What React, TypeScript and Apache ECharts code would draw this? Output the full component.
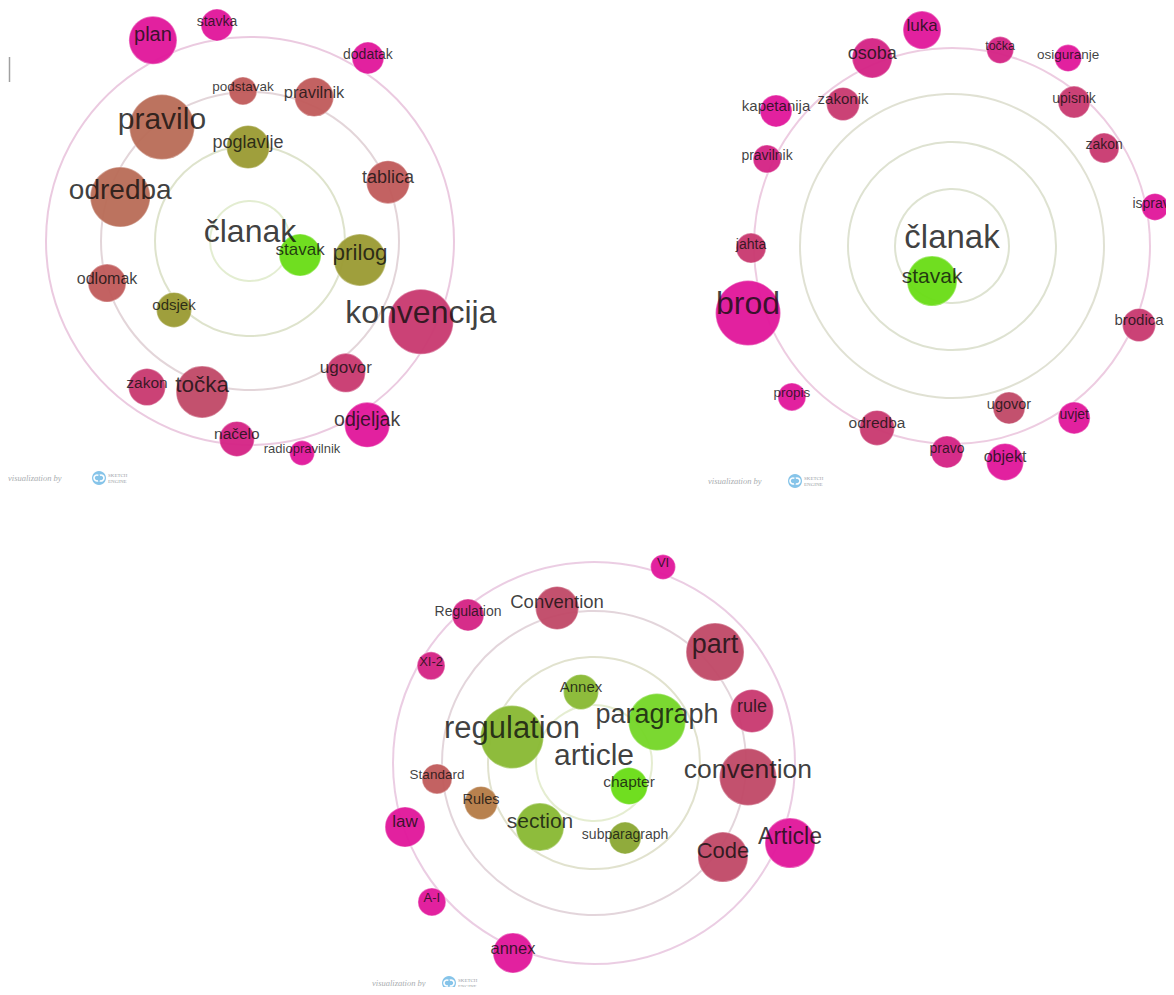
import React, { useEffect, useRef } from "react";
import * as echarts from "echarts";

// ---------- data: chart 1 (članak, HR) ----------
const words1 = ["plan", "stavka", "dodatak", "podstavak", "pravilnik", "pravilo", "poglavlje", "tablica", "odredba", "stavak", "prilog", "odlomak", "odsjek", "konvencija", "ugovor", "zakon", "točka", "odjeljak", "načelo", "radiopravilnik"];
const dist1 = [223, 218.5, 217.7, 150.2, 157.6, 144, 94, 150, 137, 52, 111.6, 149, 102.6, 189, 163, 178.7, 158.4, 218, 198.4, 218.3];
const angle1 = [115.8, 98.7, 57.2, 92.7, 66.0, 127.7, 91.2, 23.1, 161.3, 344.4, 350.2, 196.4, 222.2, 334.7, 306, 234.8, 252.4, 302.5, 266.2, 283.8];
const size1 = [48, 32, 32, 28, 39, 65, 43, 43, 60, 42, 52, 38, 35, 65, 39, 37, 52, 45, 35, 25];
const font1 = [20, 14, 14, 13.5, 16.5, 30, 18, 18, 28, 17, 22.5, 16, 15, 32, 17, 15.5, 22.5, 19.5, 15.5, 13];
const tone1 = ["M", "M", "M", "B", "B", "T", "O", "B", "T", "G", "O", "B", "O", "R", "R", "R", "S", "M", "N", "M"];
const rings1 = [40, 95, 149, 204];

// ---------- data: chart 2 (članak, HR) ----------
const words2 = ["luka", "točka", "osiguranje", "osoba", "zakonik", "kapetanija", "upisnik", "pravilnik", "zakon", "isprava", "jahta", "brod", "stavak", "brodica", "propis", "ugovor", "uvjet", "odredba", "pravo", "objekt"];
const dist2 = [218, 201.8, 220.9, 204.3, 179, 221.8, 188.7, 204.4, 180.9, 206.7, 201, 214.7, 40.3, 203, 220, 171.7, 210.9, 196.8, 206, 222.4];
const angle2 = [97.9, 76.2, 58.3, 113.0, 127.5, 142.5, 49.7, 154.8, 32.8, 10.9, 180.6, 198.2, 240.3, 337.1, 223.3, 289.4, 305.4, 247.6, 268.6, 283.8];
const size2 = [38, 27, 27, 40, 33, 32, 32, 28, 30, 27, 30, 65, 50, 33, 28, 32, 32, 35, 32, 37];
const font2 = [17, 12.5, 13.5, 18, 15, 15, 14, 14, 14, 14, 14, 32, 21, 15, 13.5, 14.5, 14, 15.5, 14, 16];
const tone2 = ["M", "N", "M", "N", "R", "M", "R", "N", "R", "M", "R", "M", "G", "R", "M", "S", "M", "R", "N", "M"];
const rings2 = [57, 104, 152, 198];

// ---------- data: chart 3 (article, EN) ----------
const words3 = ["VI", "Regulation", "Convention", "XI-2", "part", "Annex", "rule", "regulation", "paragraph", "Standard", "chapter", "convention", "Rules", "law", "section", "subparagraph", "Code", "Article", "A-I", "annex"];
const dist3 = [207.8, 194.4, 159.4, 189.7, 164.2, 72.2, 166.3, 86, 75.2, 157.8, 41.9, 154.6, 119.9, 199.5, 83.7, 81.2, 159.6, 211.7, 213.5, 206.5];
const angle3 = [70.6, 130.4, 103.4, 149.2, 42.5, 100.4, 18.2, 162.4, 33.1, 185.8, 326.7, 354.8, 199.5, 198.7, 229.8, 292.5, 323.9, 337.8, 220.6, 246.9];
const size3 = [25, 32, 43, 28, 58, 35, 43, 63, 57, 30, 37, 57, 33, 40, 48, 32, 50, 50, 28, 40];
const font3 = [13, 14, 18.5, 13, 27, 15, 18, 31, 27, 13.5, 15.5, 26.5, 14.5, 17, 21, 14, 22, 23, 13, 16.5];
const tone3 = ["M", "N", "S", "N", "S", "L", "R", "L", "P", "B", "G", "S", "K", "M", "L", "V", "S", "M", "M", "M"];
const rings3 = [58, 106, 152, 201];

const centerWords = ["članak", "članak", "article"];
const centerFonts = [32, 33, 30];

// ---------- styles ----------
const palette: Record<string, string> = {
  M: "#e0159a",
  N: "#d42284",
  R: "#c8386f",
  S: "#c04866",
  B: "#c05a5a",
  T: "#b86c56",
  O: "#9a9a32",
  G: "#68dc14",
  P: "#74d626",
  L: "#88b832",
  V: "#8aa632",
  K: "#b47a44",
};
const ringColors = [
  ["#dce9c6", "#d6dcbf", "#dccacf", "#e6bdd8"],
  ["#d6dcc6", "#d6dbc6", "#d8dac8", "#e8bfda"],
  ["#dee8c6", "#d9dbc2", "#dccbd2", "#e6c0dc"],
];
const centers = [
  [242, 233],
  [944, 238],
  [586, 755],
];
const footers = [
  [0, 470, 91],
  [700, 473, 787],
  [364, 975, 441],
];
const FONT = "'Liberation Sans', Arial, sans-serif";

function chartSeries(
  idx: number,
  words: string[],
  dist: number[],
  angle: number[],
  size: number[],
  font: number[],
  tone: string[],
  rings: number[]
) {
  const ringSeries = {
    type: "scatter",
    coordinateSystem: "polar",
    polarIndex: idx,
    z: 1,
    silent: true,
    clip: false,
    data: rings.map((r, i) => ({
      value: [0, 0],
      symbolSize: r * 2,
      itemStyle: {
        color: "rgba(0,0,0,0)",
        borderColor: ringColors[idx][i],
        borderWidth: 2,
      },
    })),
  };
  const bubbleSeries = {
    type: "scatter",
    coordinateSystem: "polar",
    polarIndex: idx,
    z: 2,
    silent: true,
    clip: false,
    data: words.map((w, i) => ({
      name: w,
      value: [dist[i], angle[i]],
      symbolSize: size[i],
      itemStyle: {
        color: palette[tone[i]],
        opacity: 0.95,
        borderColor: "rgba(255,255,255,0.35)",
        borderWidth: 1.5,
      },
    })),
  };
  const labelFonts = [...font, centerFonts[idx]];
  const labelData = words.map((w, i) => ({
    name: w,
    value: [dist[i], angle[i]],
    label: { fontSize: font[i] },
  }));
  labelData.push({
    name: centerWords[idx],
    value: [0, 0],
    label: { fontSize: centerFonts[idx] },
  });
  const labelSeries = {
    type: "scatter",
    coordinateSystem: "polar",
    polarIndex: idx,
    z: 3,
    silent: true,
    clip: false,
    symbol: "circle",
    symbolSize: 1,
    itemStyle: { color: "rgba(0,0,0,0)" },
    label: {
      show: true,
      position: "inside",
      formatter: "{b}",
      color: "#0d0d0d",
      fontFamily: FONT,
    },
    labelLayout: (p: any) => ({
      dy: -Math.round(labelFonts[p.dataIndex] * 0.3),
      hideOverlap: false,
    }),
    data: labelData,
  };
  return [ringSeries, bubbleSeries, labelSeries];
}

function footerGraphic(x: number, y: number, lx: number) {
  return [
    {
      type: "text",
      x,
      y,
      silent: true,
      style: {
        text: "visualization by",
        font: "italic 8.5px 'Liberation Serif', serif",
        fill: "#a9adb0",
        verticalAlign: "middle",
      },
    },
    { type: "circle", silent: true, shape: { cx: lx, cy: y, r: 7 }, style: { fill: "#5eb0e2", opacity: 0.75 } },
    { type: "arc", silent: true, shape: { cx: lx - 2, cy: y, r: 3, startAngle: 1.2, endAngle: 5.2 }, style: { stroke: "#fff", lineWidth: 1.6, fill: "none" } },
    { type: "arc", silent: true, shape: { cx: lx + 2, cy: y, r: 3, startAngle: 4.3, endAngle: 2.0 }, style: { stroke: "#fff", lineWidth: 1.6, fill: "none" } },
    {
      type: "text",
      x: lx + 9,
      y: y - 3,
      silent: true,
      style: { text: "SKETCH", font: "5px 'Liberation Serif', serif", fill: "#9aa0a6", verticalAlign: "middle" },
    },
    {
      type: "text",
      x: lx + 9,
      y: y + 3,
      silent: true,
      style: { text: "ENGINE", font: "5px 'Liberation Serif', serif", fill: "#9aa0a6", verticalAlign: "middle" },
    },
  ];
}

export default function App() {
  const ref = useRef<HTMLDivElement>(null);
  useEffect(() => {
    if (!ref.current) return;
    const chart = echarts.init(ref.current, null, { renderer: "svg" });
    const polar = centers.map((c) => ({ center: c, radius: 240 }));
    const angleAxis = centers.map((_, i) => ({
      polarIndex: i,
      type: "value",
      min: 0,
      max: 360,
      startAngle: 0,
      clockwise: false,
      show: false,
    }));
    const radiusAxis = centers.map((_, i) => ({
      polarIndex: i,
      type: "value",
      min: 0,
      max: 240,
      show: false,
    }));
    const series = [
      ...chartSeries(0, words1, dist1, angle1, size1, font1, tone1, rings1),
      ...chartSeries(1, words2, dist2, angle2, size2, font2, tone2, rings2),
      ...chartSeries(2, words3, dist3, angle3, size3, font3, tone3, rings3),
    ];
    const graphic = [
      {
        type: "line",
        silent: true,
        shape: { x1: 1.5, y1: 49, x2: 1.5, y2: 74 },
        style: { stroke: "#a0a0a0", lineWidth: 1.5 },
      },
      ...footers.flatMap((f) => footerGraphic(f[0], f[1], f[2])),
    ];
    chart.setOption({
      animation: false,
      backgroundColor: "#ffffff",
      polar,
      angleAxis,
      radiusAxis,
      series,
      graphic,
    } as any);
    return () => chart.dispose();
  }, []);
  return <div ref={ref} style={{ width: 1158, height: 979 }} />;
}
